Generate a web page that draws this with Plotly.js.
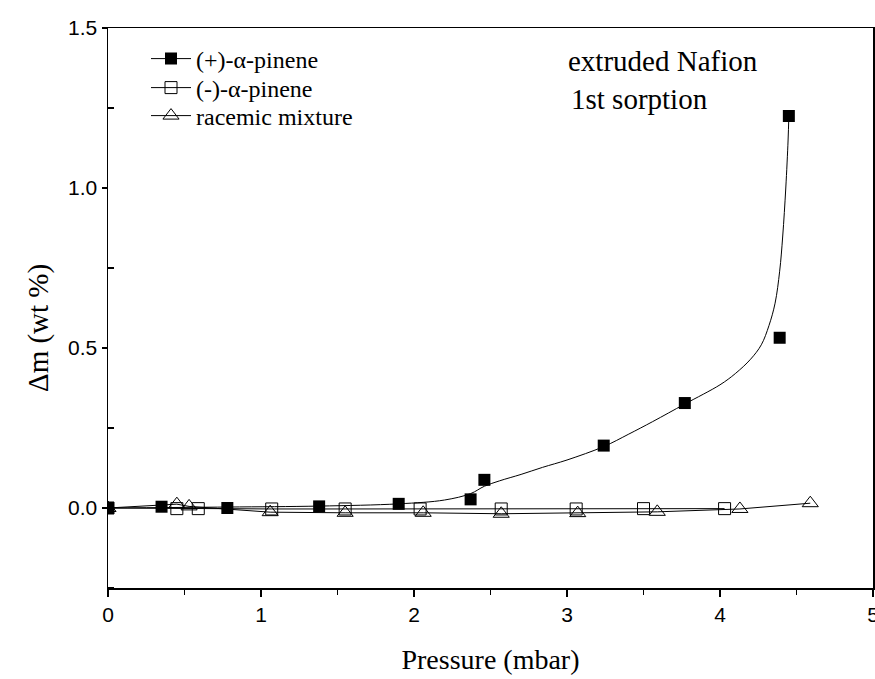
<!DOCTYPE html>
<html>
<head>
<meta charset="utf-8">
<script src="https://cdn.plot.ly/plotly-3.0.1.min.js"></script>
<style>html,body{margin:0;padding:0;background:#fff;}#chart{width:875px;height:679px;}</style>
</head>
<body>
<div id="chart"></div>
<script>
// (+)-alpha-pinene measured points
const plusX = [0, 0.35, 0.78, 1.38, 1.90, 2.37, 2.46, 3.24, 3.77, 4.39, 4.45];
const plusY = [0, 0.004, 0.0, 0.005, 0.013, 0.027, 0.088, 0.195, 0.328, 0.532, 1.225];
// fitted curve through (+) data
const fitX = [0, 0.78, 1.38, 1.90, 2.2, 2.37, 2.46, 2.56, 2.7, 2.84, 3.0, 3.24, 3.4, 3.56, 3.77, 4.0, 4.1, 4.2, 4.27, 4.32, 4.36, 4.39, 4.41, 4.43, 4.445, 4.45];
const fitY = [0, 0.003, 0.006, 0.013, 0.025, 0.045, 0.068, 0.085, 0.105, 0.127, 0.15, 0.192, 0.23, 0.27, 0.325, 0.385, 0.42, 0.465, 0.51, 0.57, 0.64, 0.74, 0.85, 1.0, 1.15, 1.225];
// (-)-alpha-pinene
const minusX = [0, 0.45, 0.59, 1.07, 1.55, 2.04, 2.57, 3.06, 3.50, 4.03];
const minusY = [0, -0.002, -0.002, -0.003, -0.003, -0.003, -0.003, -0.003, -0.002, -0.002];
// racemic mixture
const racX = [0, 0.45, 0.53, 1.06, 1.55, 2.06, 2.57, 3.07, 3.59, 4.13, 4.59];
const racY = [0, 0.012, 0.005, -0.013, -0.015, -0.015, -0.018, -0.016, -0.012, -0.003, 0.015];

const names = ['(+)-\u03b1-pinene', '(-)-\u03b1-pinene', 'racemic mixture'];
const xTicks = [0, 1, 2, 3, 4, 5];
const yTicks = [0.0, 0.5, 1.0, 1.5];

const serif = 'Liberation Serif, Times New Roman, serif';
const sans = 'Liberation Sans, Arial, sans-serif';

const traces = [
  {x: [null], y: [null], mode: 'lines+markers', name: names[0], legend: 'legend',
   line: {color: '#000', width: 1}, marker: {symbol: 'square', size: 12, color: '#000'}},
  {x: minusX, y: minusY, mode: 'lines+markers', name: names[1], legend: 'legend2',
   line: {color: '#000', width: 1}, marker: {symbol: 'square-open', size: 12, color: '#000', line: {width: 1}}},
  {x: racX, y: racY, mode: 'lines+markers', name: names[2], legend: 'legend3',
   line: {color: '#000', width: 1}, marker: {symbol: 'triangle-up-open', size: 14, color: '#000', line: {width: 1}}},
  {x: fitX, y: fitY, mode: 'lines', showlegend: false,
   line: {color: '#000', width: 1, shape: 'spline', smoothing: 1}},
  {x: plusX, y: plusY, mode: 'markers', showlegend: false,
   marker: {symbol: 'square', size: 12, color: '#000'}}
];

function leg(ypx) {
  return {x: (146 - 108) / 765, y: (588 - ypx) / 560, xanchor: 'left', yanchor: 'middle',
    font: {family: serif, size: 24, color: '#000'}, bgcolor: 'rgba(0,0,0,0)', itemwidth: 40};
}

const layout = {
  width: 875, height: 679,
  margin: {l: 108, r: 2, t: 28, b: 91},
  paper_bgcolor: '#fff', plot_bgcolor: '#fff',
  showlegend: true,
  legend: leg(59), legend2: leg(88), legend3: leg(116),
  xaxis: {
    range: [0, 5], tickvals: xTicks, ticktext: xTicks.map(String),
    showgrid: false, zeroline: false, showline: true, mirror: true,
    linecolor: '#000', linewidth: 1.5, ticks: 'outside', ticklen: 7, tickwidth: 1.5, tickcolor: '#000',
    minor: {dtick: 0.5, ticks: 'outside', ticklen: 5, tickwidth: 1.5, tickcolor: '#000', showgrid: false},
    tickfont: {family: sans, size: 21, color: '#000'}, ticklabeloverflow: 'allow',
    title: {text: 'Pressure (mbar)', font: {family: serif, size: 28, color: '#000'}, standoff: 24}
  },
  yaxis: {
    range: [-0.25, 1.5], tickvals: yTicks, ticktext: yTicks.map(v => v.toFixed(1)),
    showgrid: false, zeroline: false, showline: true, mirror: true,
    linecolor: '#000', linewidth: 1.5, ticks: 'outside', ticklen: 5, tickwidth: 1.5, tickcolor: '#000',
    minor: {tickvals: [-0.25, 0.25, 0.75, 1.25], ticks: 'inside', ticklen: 6, tickwidth: 1.5, tickcolor: '#000', showgrid: false},
    tickfont: {family: sans, size: 21, color: '#000'}, ticklabeloverflow: 'allow'
  },
  annotations: [
    {xref: 'paper', yref: 'paper', x: (38 - 108) / 765, y: (588 - 328) / 560, xanchor: 'center', yanchor: 'middle',
     textangle: -90, text: '\u0394m (wt %)', showarrow: false, font: {family: serif, size: 29, color: '#000'}},
    {xref: 'paper', yref: 'paper', x: (566 - 108) / 765, y: (588 - 61) / 560, xanchor: 'left', yanchor: 'middle',
     text: 'extruded Nafion', showarrow: false, font: {family: serif, size: 29, color: '#000'}},
    {xref: 'paper', yref: 'paper', x: (569 - 108) / 765, y: (588 - 99) / 560, xanchor: 'left', yanchor: 'middle',
     text: '1st sorption', showarrow: false, font: {family: serif, size: 29, color: '#000'}}
  ]
};

Plotly.newPlot('chart', traces, layout, {displayModeBar: false, staticPlot: true});
</script>
</body>
</html>
